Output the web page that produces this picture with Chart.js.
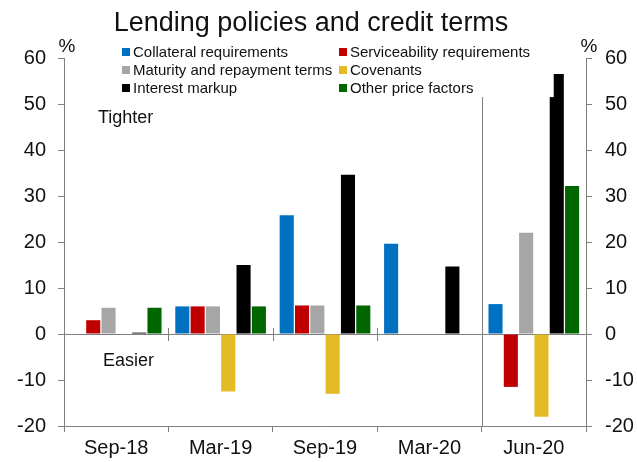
<!DOCTYPE html>
<html>
<head>
<meta charset="utf-8">
<script src="https://cdn.jsdelivr.net/npm/chart.js@4/dist/chart.umd.min.js"></script>
<style>
  html, body { margin: 0; padding: 0; background: #fff; }
  #wrap { width: 637px; height: 462px; position: relative; }
</style>
</head>
<body>
<div id="wrap"><canvas id="chart"></canvas></div>
<script>
// --- datos (%) ---
const periods = ["Sep-18", "Mar-19", "Sep-19", "Mar-20", "Jun-20"];
const collateral = [0, 6, 25.8, 19.6, 6.5];
const serviceability = [3, 6, 6.2, 0, -11.5];
const maturity = [5.7, 6, 6.2, 0, 22];
const covenants = [0, -12.5, -13, 0, -18];
const interestMarkup = [0.3, 15, 34.6, 14.7, 56.5];
const otherPrice = [5.7, 6, 6.2, 0, 32.2];
const markupStep = [null, null, null, null, 51.5];   // escalon en la barra negra de Jun-20
const yTicks = [-20, -10, 0, 10, 20, 30, 40, 50, 60];

const FONT = "'Liberation Sans', Arial, sans-serif";
const AXIS = "#7f7f7f";
const TEXT = "#111";

const COLORS = {
    blue: "#0070C0",
    red: "#C00000",
    gray: "#A6A6A6",
    yellow: "#E5BB25",
    black: "#000000",
    green: "#006600",
};

Chart.defaults.font.family = FONT;
Chart.defaults.color = TEXT;

const series = [
    ["Collateral requirements", collateral, COLORS.blue],
    ["Serviceability requirements", serviceability, COLORS.red],
    ["Maturity and repayment terms", maturity, COLORS.gray],
    ["Covenants", covenants, COLORS.yellow],
    ["Interest markup", interestMarkup, COLORS.black],
    ["Other price factors", otherPrice, COLORS.green],
];

// leyenda en dos columnas, titulo y anotaciones
const decorations = {
    id: "decorations",
    beforeDatasetsDraw(chart) {
        const { ctx, chartArea, scales } = chart;
        const y0 = scales.y.getPixelForValue(0);
        ctx.save();
        ctx.strokeStyle = AXIS;
        ctx.lineWidth = 1;
        // linea de cero
        ctx.beginPath();
        ctx.moveTo(chartArea.left, Math.round(y0) + 0.5);
        ctx.lineTo(chartArea.right, Math.round(y0) + 0.5);
        ctx.stroke();
        // marcas de categoria sobre la linea de cero
        const x = scales.x;
        for (let i = 1; i < periods.length; i++) {
            const bx = Math.round((x.getPixelForValue(i - 1) + x.getPixelForValue(i)) / 2) + 0.5;
            ctx.beginPath();
            ctx.moveTo(bx, y0 - 6);
            ctx.lineTo(bx, y0 + 7);
            ctx.stroke();
        }
        // separador antes de Jun-20
        const sx = Math.round((x.getPixelForValue(3) + x.getPixelForValue(4)) / 2) + 0.5;
        ctx.beginPath();
        ctx.moveTo(sx, 97);
        ctx.lineTo(sx, chartArea.bottom);
        ctx.stroke();
        ctx.restore();
    },
    afterDatasetsDraw(chart) {
        const { ctx, scales } = chart;
        ctx.save();
        // escalon de la barra "Interest markup"
        const meta = chart.getDatasetMeta(4);
        markupStep.forEach((v, i) => {
            if (v == null) return;
            const bar = meta.data[i];
            const left = bar.x - bar.width / 2;
            const top = scales.y.getPixelForValue(interestMarkup[i]);
            const step = scales.y.getPixelForValue(v);
            ctx.fillStyle = "#fff";
            ctx.fillRect(left - 1, top - 1, 5, step - top + 1);
        });

        // titulo
        ctx.fillStyle = TEXT;
        ctx.textBaseline = "alphabetic";
        ctx.textAlign = "center";
        ctx.font = "27px " + FONT;
        ctx.fillText("Lending policies and credit terms", 311, 31);

        // unidades
        ctx.font = "19px " + FONT;
        ctx.fillText("%", 67, 52);
        ctx.fillText("%", 589, 52);

        // Tighter / Easier
        ctx.textAlign = "left";
        ctx.font = "18px " + FONT;
        ctx.fillText("Tighter", 98, 123);
        ctx.fillText("Easier", 103, 366);

        // leyenda
        const colX = [122, 339];
        const rowY = [52, 70, 88];
        ctx.font = "15px " + FONT;
        ctx.textBaseline = "middle";
        chart.data.datasets.forEach((ds, i) => {
            const cx = colX[i % 2];
            const cy = rowY[Math.floor(i / 2)];
            ctx.fillStyle = ds.backgroundColor;
            ctx.fillRect(cx, cy - 4, 8, 8);
            ctx.fillStyle = TEXT;
            ctx.fillText(ds.label, cx + 11, cy + 1);
        });
        ctx.restore();
    },
};

const yAxis = (position, width, padding) => ({
    type: "linear",
    position,
    min: -20,
    max: 60,
    afterFit: (s) => { s.width = width; },
    afterBuildTicks: (s) => { s.ticks = yTicks.map((v) => ({ value: v })); },
    grid: { drawOnChartArea: false, tickLength: 6, tickColor: AXIS },
    border: { display: true, color: AXIS },
    ticks: { font: { size: 20 }, color: TEXT, padding },
});

new Chart(document.getElementById("chart").getContext("2d"), {
    type: "bar",
    data: {
        labels: periods,
        datasets: series.map(([label, data, color]) => ({
            label,
            data,
            backgroundColor: color,
            borderWidth: 0,
            categoryPercentage: 0.88,
            barPercentage: 0.92,
        })),
    },
    options: {
        responsive: true,
        maintainAspectRatio: false,
        animation: false,
        layout: { padding: { top: 58, left: 0, right: 0, bottom: 0 } },
        plugins: {
            legend: { display: false },
            title: { display: false },
            tooltip: { enabled: false },
        },
        scales: {
            x: {
                afterFit: (s) => { s.height = 36; },
                grid: { offset: true, drawOnChartArea: false, tickLength: 6, tickColor: AXIS },
                border: { display: true, color: AXIS },
                ticks: { font: { size: 20 }, color: TEXT, padding: 4, maxRotation: 0 },
            },
            y: yAxis("left", 64, 12),
            y2: yAxis("right", 51, 13),
        },
    },
    plugins: [decorations],
});
</script>
</body>
</html>
